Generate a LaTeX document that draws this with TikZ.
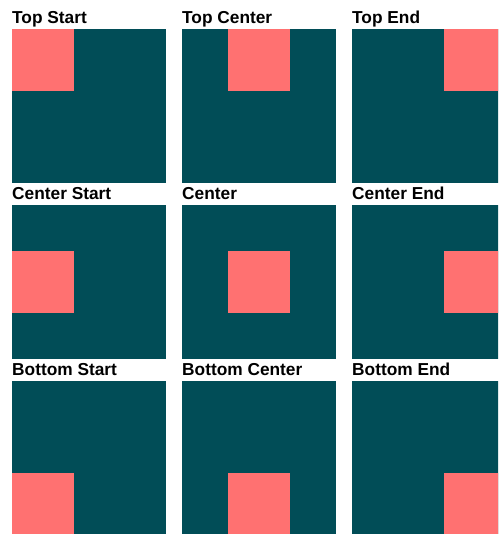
\documentclass[tikz,border=0pt]{standalone}
\usepackage{fontspec}
\setmainfont{Liberation Sans}
\definecolor{boxteal}{RGB}{1,77,87}
\definecolor{boxpink}{RGB}{255,113,113}
\tikzset{
  lbl/.style={anchor=base west, inner sep=0pt, text=black,
    font=\fontsize{17.3}{20}\selectfont\bfseries},
  outer/.style={fill=boxteal},
  inner/.style={fill=boxpink}
}
% #1 name, #2 x-left, #3 top (from image top), #4 dx of pink, #5 dy of pink, #6 label
\newcommand\gridcell[6]{%
  \path[outer] (#2,534-#3) rectangle ++(154,-154);
  \path[inner] (#2+#4,534-#3-#5) rectangle ++(62,-62);
  \node[lbl] (#1) at (#2,534-#3+5) {#6};
}
\begin{document}
\begin{tikzpicture}[x=1pt,y=1pt]
\useasboundingbox (0,0) rectangle (498,534);
\clip (0,0) rectangle (498,534);
\gridcell{ts}{12}{29}{0}{0}{Top Start}
\gridcell{tc}{182}{29}{46}{0}{Top Center}
\gridcell{te}{352}{29}{92}{0}{Top End}
\gridcell{cs}{12}{205}{0}{46}{Center Start}
\gridcell{cc}{182}{205}{46}{46}{Center}
\gridcell{ce}{352}{205}{92}{46}{Center End}
\gridcell{bs}{12}{381}{0}{92}{Bottom Start}
\gridcell{bc}{182}{381}{46}{92}{Bottom Center}
\gridcell{be}{352}{381}{92}{92}{Bottom End}
\end{tikzpicture}
\end{document}
